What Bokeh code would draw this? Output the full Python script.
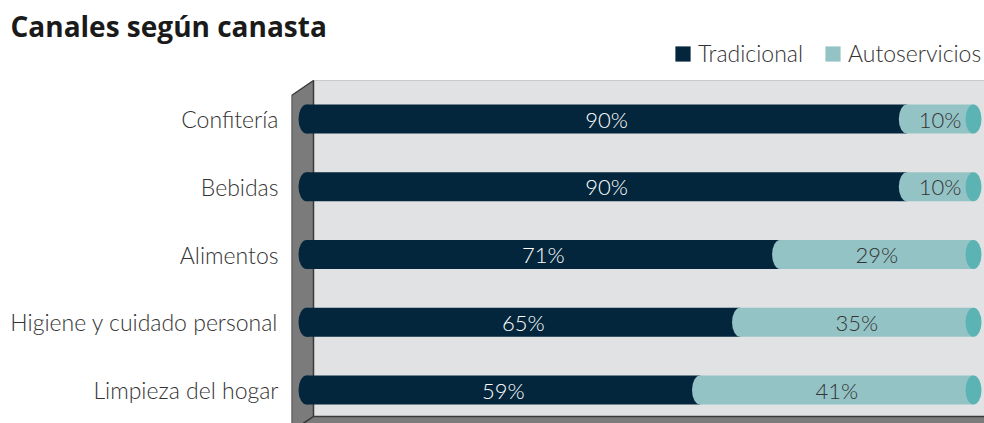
from bokeh.plotting import figure
from bokeh.models import (Range1d, FixedTicker, Legend, LegendItem, ColumnDataSource)
from bokeh.core.properties import value
from bokeh.embed import file_html
from bokeh.resources import INLINE

# ---- data ----
categories = ["Confitería", "Bebidas", "Alimentos", "Higiene y cuidado personal", "Limpieza del hogar"]
tradicional = [90, 90, 71, 65, 59]
autoservicios = [10, 10, 29, 35, 41]
series_names = ["Tradicional", "Autoservicios"]
title_text = "Canales según canasta"

# ---- styling ----
NAVY = "#03263c"
TEAL_LIGHT = "#94c3c5"
TEAL_CAP = "#5cb3b3"
WALL = "#e1e2e4"
SIDE = "#7b7b7b"
EDGE = "#3a3a3a"
TXT = "#333333"
FONT = "Lato Light"

W, H = 984, 423
LEFT = 291          # left border (category labels)
TOP = 36            # top border (title)

# value axis: 0% at x 306, 6.67 px per percent
ZERO_X, SX = 306, 6.67
# category axis: last category centred at y 389.5, 67.75 px apart
BASE_Y, SY = 389.5, 67.75


def ux(px):
    return (px - ZERO_X) / SX


def vy(py):
    return (BASE_Y - py) / SY


x0, x1 = ux(LEFT), ux(W)
y0, y1 = vy(H), vy(TOP)

n = len(categories)
ypos = [n - 1 - i for i in range(n)]   # first category on top

p = figure(width=W, height=H, output_backend="svg", toolbar_location=None,
           x_range=Range1d(x0, x1), y_range=Range1d(y0, y1),
           x_axis_location=None, min_border_left=LEFT, min_border_right=0,
           min_border_top=TOP, min_border_bottom=0)
p.outline_line_color = None
p.grid.visible = False
p.background_fill_color = "white"
p.border_fill_color = "white"

# ---- title ----
p.title.text = title_text
p.title.align = "left"
p.title.offset = -(LEFT - 10)
p.title.standoff = -16
p.title.text_font = "Open Sans"
p.title.text_font_style = "bold"
p.title.text_font_size = "28px"
p.title.text_color = "#1a1a1a"

# ---- 3D box decoration ----
wall_l, wall_t, wall_b = ux(313), vy(80), vy(416)
side_l = ux(291)
dx, dy = 22 / SX, 15 / SY
p.quad(left=[wall_l], right=[x1 + 1], bottom=[wall_b], top=[wall_t],
       fill_color=WALL, line_color="#c9cacc", line_width=1)
p.patch([side_l, wall_l, wall_l, side_l],
        [wall_t - dy, wall_t, wall_b, wall_b - dy],
        fill_color=SIDE, line_color=EDGE, line_width=1.5)
p.patch([wall_l, x1 + 2, x1 + 2 - dx, side_l],
        [wall_b, wall_b, wall_b - dy, wall_b - dy],
        fill_color=SIDE, line_color=EDGE, line_width=1.5)

# ---- bars ----
BAR_H = 29 / SY
CAP_W = 16 / SX
total = [a + b for a, b in zip(tradicional, autoservicios)]
src = ColumnDataSource(dict(
    y=ypos, trad=tradicional, total=total, zero=[0] * n,
    trad_mid=[t / 2 for t in tradicional],
    auto_mid=[t + a / 2 for t, a in zip(tradicional, autoservicios)],
    trad_lbl=[f"{t}%" for t in tradicional],
    auto_lbl=[f"{a}%" for a in autoservicios],
))

p.ellipse(x="zero", y="y", width=CAP_W, height=BAR_H, source=src,
          fill_color=NAVY, line_color=None)
r_trad = p.hbar(y="y", left="zero", right="trad", height=BAR_H, source=src,
                fill_color=NAVY, line_color=None)
r_auto = p.hbar(y="y", left="trad", right="total", height=BAR_H, source=src,
                fill_color=TEAL_LIGHT, line_color=None)
p.ellipse(x="trad", y="y", width=CAP_W, height=BAR_H, source=src,
          fill_color=TEAL_LIGHT, line_color=None)
p.ellipse(x="total", y="y", width=CAP_W, height=BAR_H, source=src,
          fill_color=TEAL_CAP, line_color=None)

p.text(x="trad_mid", y="y", text="trad_lbl", source=src, text_align="center",
       text_baseline="middle", text_color="white", text_font=value(FONT),
       text_font_size="22px")
p.text(x="auto_mid", y="y", text="auto_lbl", source=src, text_align="center",
       text_baseline="middle", text_color=TXT, text_font=value(FONT),
       text_font_size="22px")

# ---- y axis with category names ----
ax = p.yaxis[0]
ax.ticker = FixedTicker(ticks=ypos)
ax.major_label_overrides = {yv: c for yv, c in zip(ypos, categories)}
ax.axis_line_color = None
ax.major_tick_line_color = None
ax.minor_tick_line_color = None
ax.major_tick_out = 0
ax.major_tick_in = 0
ax.minor_tick_out = 0
ax.major_label_standoff = 13
ax.major_label_text_font = FONT
ax.major_label_text_font_size = "23px"
ax.major_label_text_color = TXT

# ---- legend ----
legend = Legend(items=[LegendItem(label=series_names[0], renderers=[r_trad]),
                       LegendItem(label=series_names[1], renderers=[r_auto])],
                orientation="horizontal", location=(382, 356),
                glyph_width=19, glyph_height=19, label_standoff=6, spacing=20,
                padding=0, margin=0, background_fill_alpha=0, border_line_alpha=0,
                label_text_font=FONT, label_text_font_size="23px",
                label_text_color=TXT)
p.add_layout(legend)

open("out.html", "w").write(file_html(p, INLINE))
